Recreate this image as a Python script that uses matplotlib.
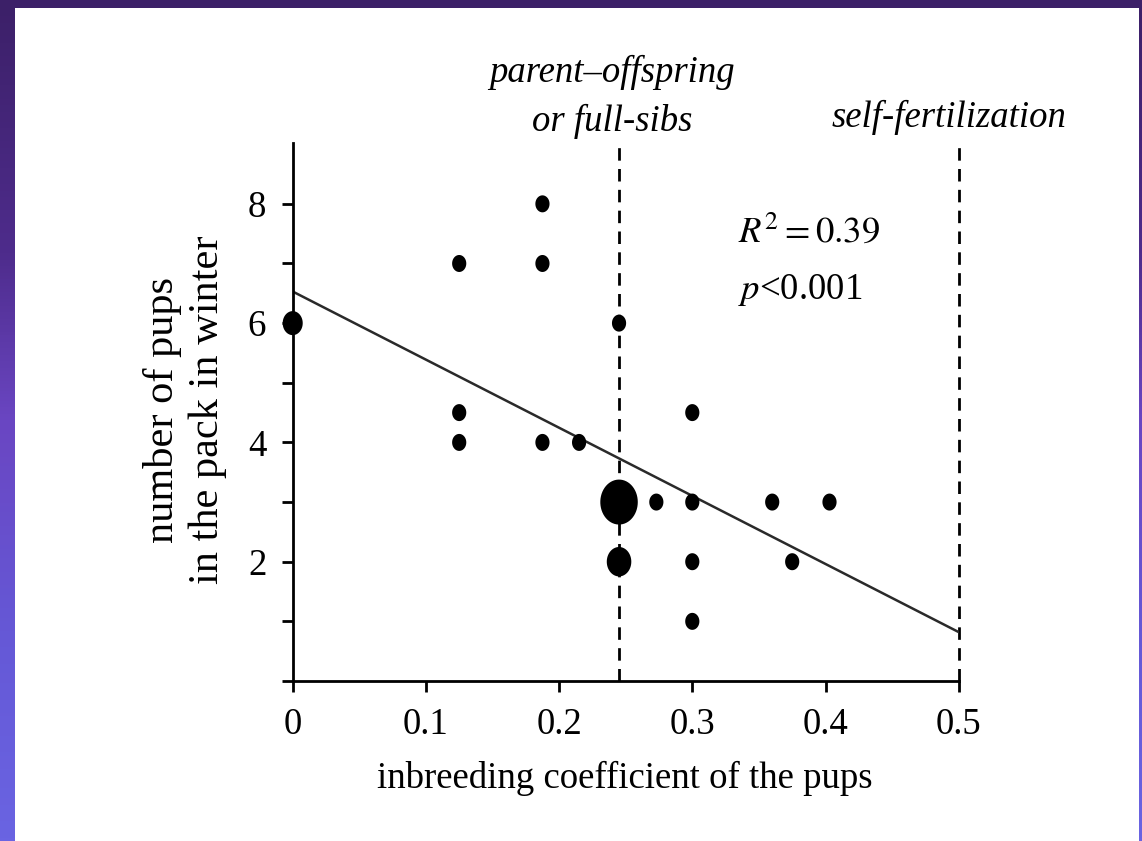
import numpy as np
import matplotlib
matplotlib.use("Agg")
import matplotlib.pyplot as plt
from matplotlib.colors import LinearSegmentedColormap
from matplotlib.patches import Rectangle
from matplotlib.path import Path

# inbreeding coefficient vs number of pups
inbreeding = [0.0, 0.125, 0.125, 0.125, 0.1875, 0.1875, 0.1875, 0.215,
              0.245, 0.245, 0.245, 0.273, 0.30, 0.30, 0.30, 0.30,
              0.36, 0.375, 0.403]
pups = [6, 7, 4.5, 4, 8, 7, 4, 4,
        6, 3, 2, 3, 4.5, 3, 2, 1,
        3, 2, 3]
# number of packs sharing each point (drives marker size)
n_packs = [2, 1, 1, 1, 1, 1, 1, 1,
           1, 7, 3, 1, 1, 1, 1, 1,
           1, 1, 1]

fit_x = [0.0, 0.5]
fit_y = [6.53, 0.82]

vlines = [0.245, 0.5]
xticks = [0, 0.1, 0.2, 0.3, 0.4, 0.5]
xtick_labels = ["0", "0.1", "0.2", "0.3", "0.4", "0.5"]
yticks = [0, 1, 2, 3, 4, 5, 6, 7, 8]
ytick_labels = ["", "", "2", "", "4", "", "6", "", "8"]

plt.rcParams['font.family'] = ['Liberation Serif', 'DejaVu Serif']
plt.rcParams['mathtext.fontset'] = 'stix'

W, H = 1142, 841
fig = plt.figure(figsize=(W / 100, H / 100), dpi=100)

# purple gradient background, dark at the top
bg = fig.add_axes([0, 0, 1, 1], zorder=-10)
bg.axis('off')
cmap = LinearSegmentedColormap.from_list(
    'bg', [(0.0, '#3c2068'), (0.3, '#4e2c8c'), (0.5, '#6a46c2'),
           (0.75, '#6558d6'), (1.0, '#6a64e2')])
bg.imshow(np.linspace(0, 1, 256).reshape(-1, 1), aspect='auto', cmap=cmap,
          extent=[0, 1, 0, 1], origin='upper')
bg.set_xlim(0, 1)
bg.set_ylim(0, 1)
fig.patches.append(Rectangle((15 / W, 0), (1139 - 15) / W, (H - 8) / H,
                             transform=fig.transFigure, facecolor='white',
                             edgecolor='none', zorder=-5))

ax = fig.add_axes([292.7 / W, 1 - 681 / H, (958.7 - 292.7) / W, (681 - 143) / H])
ax.patch.set_alpha(0)

# slightly tall ellipse marker (the original picture is stretched)
t = np.linspace(0, 2 * np.pi, 60)
ellipse = Path(np.column_stack([np.cos(t) / 1.2, np.sin(t)]))

sizes = [(17 * 0.72 * np.sqrt(n)) ** 2 for n in n_packs]
ax.scatter(inbreeding, pups, s=sizes, marker=ellipse, color='black',
           linewidths=0, zorder=3, clip_on=False)

ax.plot(fit_x, fit_y, color='#2a2a2a', lw=1.8, zorder=2)

for v in vlines:
    ax.plot([v, v], [0, 8.95], color='black', lw=2, dashes=(4.5, 3),
            zorder=1, clip_on=False)

ax.set_xlim(0, 0.5)
ax.set_ylim(0, 9.02)
ax.set_xticks(xticks)
ax.set_xticklabels(xtick_labels)
ax.set_yticks(yticks)
ax.set_yticklabels(ytick_labels)
ax.tick_params(direction='out', length=8, width=2, labelsize=26.5, pad=11)

for side in ['top', 'right']:
    ax.spines[side].set_visible(False)
for side in ['left', 'bottom']:
    ax.spines[side].set_linewidth(2)

fs = 26.5
ax.text(0.240, 10.2, "parent\u2013offspring", style='italic', fontsize=fs,
        ha='center', va='center', clip_on=False)
ax.text(0.240, 9.38, "or full-sibs", style='italic', fontsize=fs,
        ha='center', va='center', clip_on=False)
ax.text(0.493, 9.45, "self-fertilization", style='italic', fontsize=fs,
        ha='center', va='center', clip_on=False)

ax.text(0.334, 7.52, r"$R^2 = 0.39$", fontsize=fs, ha='left', va='center')
ax.text(0.334, 6.56, r"$p$<0.001", fontsize=fs, ha='left', va='center')

fig.text(625 / W, 1 - 778 / H, "inbreeding coefficient of the pups",
         fontsize=fs, ha='center', va='center')
fig.text(163 / W, 1 - 410 / H, "number of pups",
         fontsize=30.5, ha='center', va='center', rotation=90)
fig.text(208 / W, 1 - 410 / H, "in the pack in winter",
         fontsize=30.5, ha='center', va='center', rotation=90)

fig.savefig("out.png", dpi=100)
